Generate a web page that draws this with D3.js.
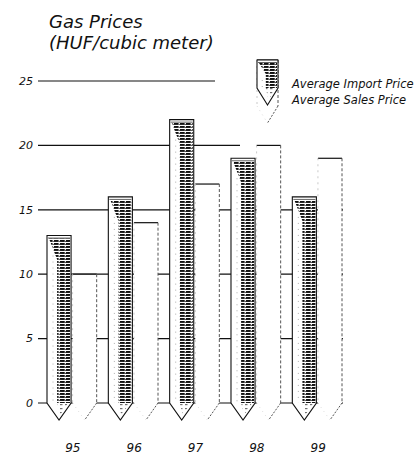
<!DOCTYPE html>
<html>
<head>
<meta charset="utf-8">
<script src="https://cdn.jsdelivr.net/npm/d3@7"></script>
<style>
  html, body { margin: 0; padding: 0; background: #fff; }
  svg { display: block; }
  text { font-family: "DejaVu Sans", sans-serif; font-style: oblique; font-weight: 200; fill: #111; }
</style>
</head>
<body>
<script>
// Gas prices by year, HUF per cubic meter
const years = ["95", "96", "97", "98", "99"];
const importPrice = [13, 16, 22, 19, 16];
const salesPrice = [10, 14, 17, 20, 19];
const yTicks = [0, 5, 10, 15, 20, 25];
const seriesNames = ["Average Import Price", "Average Sales Price"];
const titleLines = ["Gas Prices", "(HUF/cubic meter)"];

const W = 417, H = 455;
const TIP = 17;            // depth of the sharpened pencil point
const gridStart = 38;
const gridEnd = { 25: 215, 20: 240 };   // upper lines stop short of the legend
const gridEndDefault = 343;

const svg = d3.select("body").append("svg")
  .attr("width", W).attr("height", H)
  .attr("viewBox", `0 0 ${W} ${H}`);

const x = d3.scaleBand().domain(years).range([47, 342]).paddingInner(0.19).paddingOuter(0);
const sub = d3.scaleBand().domain(["import", "sales"]).range([0, x.bandwidth()]).paddingInner(0.06);
const y = d3.scaleLinear().domain([0, 25]).range([403, 81]);

// halftone-like graphite texture
const defs = svg.append("defs");
const pat = defs.append("pattern").attr("id", "grain")
  .attr("patternUnits", "userSpaceOnUse").attr("width", 6).attr("height", 3);
pat.append("rect").attr("x", 0).attr("y", 0).attr("width", 4.6).attr("height", 1.9).attr("fill", "#111");
pat.append("rect").attr("x", 4.6).attr("y", 0.9).attr("width", 1.4).attr("height", 0.9).attr("fill", "#444");
const pat2 = defs.append("pattern").attr("id", "grainLight")
  .attr("patternUnits", "userSpaceOnUse").attr("width", 5).attr("height", 4);
pat2.append("rect").attr("x", 0).attr("y", 0).attr("width", 2.5).attr("height", 1.2).attr("fill", "#333");

// title
svg.append("text").attr("x", 49).attr("y", 28).attr("font-size", 18).text(titleLines[0]);
svg.append("text").attr("x", 49).attr("y", 49).attr("font-size", 18).text(titleLines[1]);

// gridlines and y labels
const grid = svg.append("g");
yTicks.forEach(t => {
  grid.append("line")
    .attr("x1", gridStart).attr("x2", gridEnd[t] || gridEndDefault)
    .attr("y1", y(t)).attr("y2", y(t))
    .attr("stroke", "#111").attr("stroke-width", 1.2);
  grid.append("text")
    .attr("x", 33).attr("y", y(t)).attr("dy", "0.35em")
    .attr("text-anchor", "end").attr("font-size", 11)
    .text(t);
});

function pencilPath(x0, w, yTop, yBase) {
  const x1 = x0 + w, xc = x0 + w / 2;
  return `M${x0},${yTop}H${x1}V${yBase}L${xc},${yBase + TIP}L${x0},${yBase}Z`;
}

function importPencil(g, x0, w, yTop, yBase) {
  const x1 = x0 + w, xc = x0 + w / 2, xs = x0 + w * 0.42;
  g.append("path").attr("d", pencilPath(x0, w, yTop, yBase)).attr("fill", "#fff");
  // faint guide strokes on the light side of the pencil
  g.append("line").attr("x1", x0 + w * 0.25).attr("x2", x0 + w * 0.25)
    .attr("y1", yTop + 20).attr("y2", yBase)
    .attr("stroke", "#999").attr("stroke-width", 0.8).attr("stroke-dasharray", "1,5");
  // dark graphite band with its wedge at the top
  const wedge = Math.min(24, (yBase - yTop) * 0.5);
  g.append("path")
    .attr("d", `M${x0 + 2},${yTop + 3}H${x1 - 1}V${yBase}H${xs}V${yTop + wedge}Z`)
    .attr("fill", "url(#grain)");
  g.append("path")
    .attr("d", `M${x0 + w * 0.6},${yTop + 4}H${x1 - 2}V${yBase}H${x0 + w * 0.6}Z`)
    .attr("fill", "url(#grain)").attr("opacity", 0.6);
  // lighter shading inside the point
  g.append("path")
    .attr("d", `M${xs},${yBase}H${x1 - 3}L${xc + 1},${yBase + TIP - 5}Z`)
    .attr("fill", "url(#grainLight)").attr("opacity", 0.7);
  g.append("line").attr("x1", x0 + 1).attr("x2", x1 - 1)
    .attr("y1", yTop + 2.5).attr("y2", yTop + 2.5).attr("stroke", "#222").attr("stroke-width", 0.7);
  g.append("path").attr("d", pencilPath(x0, w, yTop, yBase))
    .attr("fill", "none").attr("stroke", "#111").attr("stroke-width", 1.1);
}

function salesPencil(g, x0, w, yTop, yBase) {
  const x1 = x0 + w, xc = x0 + w / 2;
  g.append("path").attr("d", pencilPath(x0, w, yTop, yBase)).attr("fill", "#fff");
  g.append("line").attr("x1", x0).attr("x2", x1).attr("y1", yTop).attr("y2", yTop)
    .attr("stroke", "#111").attr("stroke-width", 1.2);
  g.append("line").attr("x1", x1).attr("x2", x1).attr("y1", yTop).attr("y2", yBase)
    .attr("stroke", "#555").attr("stroke-width", 1).attr("stroke-dasharray", "3,2");
  g.append("line").attr("x1", x0).attr("x2", x0).attr("y1", yTop).attr("y2", yBase)
    .attr("stroke", "#bbb").attr("stroke-width", 0.8).attr("stroke-dasharray", "2,4");
  g.append("path").attr("d", `M${x1},${yBase}L${xc},${yBase + TIP}`)
    .attr("stroke", "#555").attr("stroke-width", 1).attr("stroke-dasharray", "2,1.5").attr("fill", "none");
  g.append("path").attr("d", `M${x0},${yBase}L${xc},${yBase + TIP}`)
    .attr("stroke", "#ccc").attr("stroke-width", 0.7).attr("stroke-dasharray", "1,4").attr("fill", "none");
}

// pencils: sales price behind, import price in front
const bars = svg.append("g");
years.forEach((yr, i) => {
  const g = bars.append("g");
  salesPencil(g, x(yr) + sub("sales"), sub.bandwidth(), y(salesPrice[i]), y(0));
  importPencil(g, x(yr) + sub("import"), sub.bandwidth(), y(importPrice[i]), y(0));
});

// year labels
svg.append("g").selectAll("text").data(years).join("text")
  .attr("x", d => x(d) + x.bandwidth() / 2 + 1)
  .attr("y", 452)
  .attr("text-anchor", "middle").attr("font-size", 12)
  .text(d => d);

// legend
const lg = svg.append("g");
salesPencil(lg, 257, 21, 60, 106);
importPencil(lg, 257, 21, 60, 88);
lg.selectAll("text").data(seriesNames).join("text")
  .attr("x", 292).attr("y", (d, i) => 88 + i * 16)
  .attr("font-size", 11.5)
  .text(d => d);
</script>
</body>
</html>
